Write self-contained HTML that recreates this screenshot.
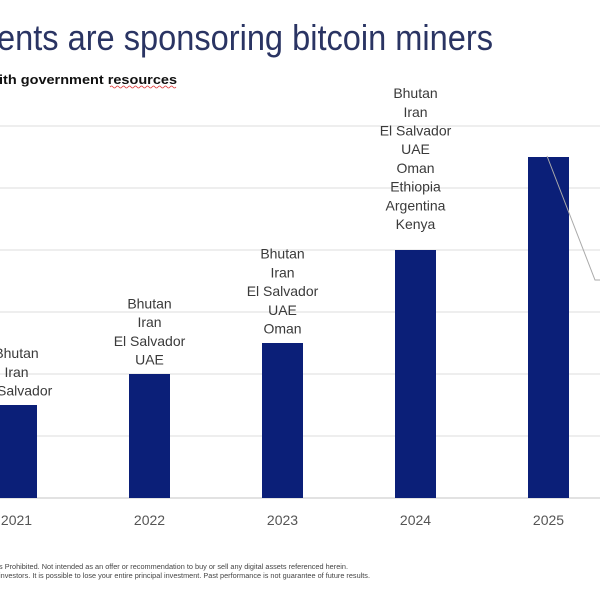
<!DOCTYPE html>
<html><head><meta charset="utf-8"><style>
html,body{margin:0;padding:0;background:#fff;}
svg{display:block;font-family:"Liberation Sans",sans-serif;}
</style></head><body>
<svg id="chart" width="600" height="600" viewBox="0 0 600 600">
<text x="-3" y="50" font-size="36" fill="#2a3463" textLength="496" lengthAdjust="spacingAndGlyphs">ents are sponsoring bitcoin miners</text>
<text x="-1" y="84" font-size="13" font-weight="bold" fill="#111" textLength="178" lengthAdjust="spacingAndGlyphs">ith government resources</text>
<path d="M110 87 q1.5 -2 3 0 t3 0 t3 0 t3 0 t3 0 t3 0 t3 0 t3 0 t3 0 t3 0 t3 0 t3 0 t3 0 t3 0 t3 0 t3 0 t3 0 t3 0 t3 0 t3 0 t3 0 t3 0" fill="none" stroke="#d33" stroke-width="0.7"/>
<g id="grid"></g>
<g id="bars"></g>
<g id="labels"></g>
<g id="xlabels"></g>
<polyline points="547,156 595,280 600,280" fill="none" stroke="#aaa" stroke-width="1"/>
<text x="-1" y="569" font-size="7" fill="#444" textLength="349" lengthAdjust="spacingAndGlyphs">s Prohibited. Not intended as an offer or recommendation to buy or sell any digital assets referenced herein.</text>
<text x="-1" y="578" font-size="7" fill="#444" textLength="371" lengthAdjust="spacingAndGlyphs">investors. It is possible to lose your entire principal investment. Past performance is not guarantee of future results.</text>
</svg>
<script>
const years = ["2021","2022","2023","2024","2025"];
const counts = [3,4,5,8,11];
const countries = [
 ["Bhutan","Iran","El Salvador"],
 ["Bhutan","Iran","El Salvador","UAE"],
 ["Bhutan","Iran","El Salvador","UAE","Oman"],
 ["Bhutan","Iran","El Salvador","UAE","Oman","Ethiopia","Argentina","Kenya"],
 []
];
const yTicks = [0,2,4,6,8,10,12];
const NS="http://www.w3.org/2000/svg";
const y0=498, pxPer=31;
function yS(v){return y0-v*pxPer;}
function xS(i){return 16.5+i*133;}
const bw=41;
const grid=document.getElementById('grid');
yTicks.forEach(t=>{
 const l=document.createElementNS(NS,'line');
 l.setAttribute('x1',0);l.setAttribute('x2',600);
 l.setAttribute('y1',yS(t));l.setAttribute('y2',yS(t));
 l.setAttribute('stroke',t===0?'#d0d0d0':'#e3e3e3');l.setAttribute('stroke-width',1.2);
 
 
 grid.appendChild(l);
});
const bars=document.getElementById('bars'),labels=document.getElementById('labels'),xl=document.getElementById('xlabels');
years.forEach((y,i)=>{
 const r=document.createElementNS(NS,'rect');
 r.setAttribute('x',xS(i)-bw/2);r.setAttribute('width',bw);
 r.setAttribute('y',yS(counts[i]));r.setAttribute('height',y0-yS(counts[i]));
 r.setAttribute('fill','#0b1f78');
 
 
 bars.appendChild(r);
 const names=countries[i];
 const gap = names.length>6 ? 26 : 14.5;
 names.forEach((n,j)=>{
  const t=document.createElementNS(NS,'text');
  t.setAttribute('x',xS(i));
  t.setAttribute('y',yS(counts[i])-gap-(names.length-1-j)*18.7+5);
  t.setAttribute('text-anchor','middle');t.setAttribute('font-size','14');t.setAttribute('fill','#3a3a3a');
  t.textContent=n;
  
  
  labels.appendChild(t);
 });
 const t=document.createElementNS(NS,'text');
 t.setAttribute('x',xS(i));t.setAttribute('y',525);
 t.setAttribute('text-anchor','middle');t.setAttribute('font-size','14');t.setAttribute('fill','#555');
 t.textContent=y;
 
 
 xl.appendChild(t);
});
</script>
</body></html>
